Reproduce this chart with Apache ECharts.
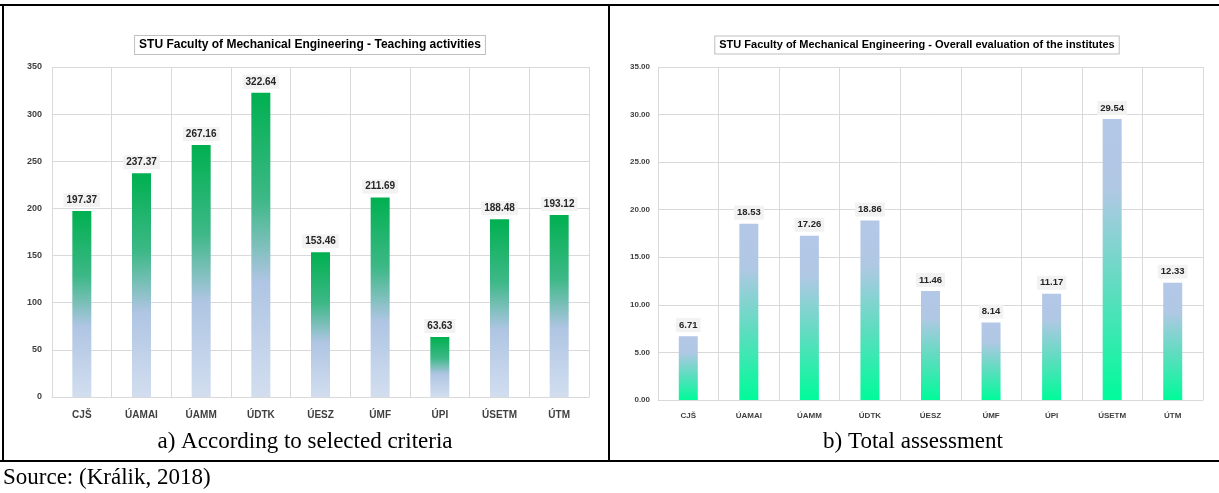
<!DOCTYPE html>
<html>
<head>
<meta charset="utf-8">
<script src="https://cdn.jsdelivr.net/npm/echarts@6/dist/echarts.min.js"></script>
<style>
html,body{margin:0;padding:0;background:#fff;}
#chart{width:1219px;height:493px;}
</style>
</head>
<body>
<div id="chart"></div>
<script>
// ---- Data ----
const categories = ['CJŠ', 'ÚAMAI', 'ÚAMM', 'ÚDTK', 'ÚESZ', 'ÚMF', 'ÚPI', 'ÚSETM', 'ÚTM'];
const teachingValues = [197.37, 237.37, 267.16, 322.64, 153.46, 211.69, 63.63, 188.48, 193.12];
const overallValues = [6.71, 18.53, 17.26, 18.86, 11.46, 8.14, 11.17, 29.54, 12.33];
const titleLeft = 'STU Faculty of Mechanical Engineering - Teaching activities';
const titleRight = 'STU Faculty of Mechanical Engineering - Overall evaluation of the institutes';
const captionLeft = 'a) According to selected criteria';
const captionRight = 'b) Total assessment';
const sourceText = 'Source: (Králik, 2018)';

const uiFont = '"Liberation Sans Narrow", "Liberation Sans", "Noto Sans", sans-serif';
const serifFont = '"Liberation Serif", "DejaVu Serif", serif';

const gradLeft = new echarts.graphic.LinearGradient(0, 0, 0, 1, [
  {offset: 0, color: '#00b050'},
  {offset: 0.35, color: '#3db887'},
  {offset: 0.62, color: '#afc5e3'},
  {offset: 1, color: '#d2deef'}
]);
const gradRight = new echarts.graphic.LinearGradient(0, 0, 0, 1, [
  {offset: 0, color: '#b4c7e7'},
  {offset: 0.25, color: '#b0c8e4'},
  {offset: 0.6, color: '#60dcc0'},
  {offset: 1, color: '#00fb9a'}
]);

const gridLine = {show: true, lineStyle: {color: '#d9d9d9', width: 1}};

const chart = echarts.init(document.getElementById('chart'), null, {renderer: 'canvas'});
chart.setOption({
  backgroundColor: '#ffffff',
  animation: false,
  grid: [
    {left: 52, top: 67, width: 537, height: 330},
    {left: 658, top: 67, width: 545, height: 333}
  ],
  xAxis: [
    {
      gridIndex: 0, type: 'category', data: categories,
      axisTick: {show: false},
      axisLine: {lineStyle: {color: '#d9d9d9'}},
      splitLine: gridLine,
      axisLabel: {margin: 13, fontSize: 10, fontWeight: 'bold', color: '#404040', fontFamily: uiFont}
    },
    {
      gridIndex: 1, type: 'category', data: categories,
      axisTick: {show: false},
      axisLine: {lineStyle: {color: '#d9d9d9'}},
      splitLine: gridLine,
      axisLabel: {margin: 12, fontSize: 8, fontWeight: 'bold', color: '#404040', fontFamily: uiFont}
    }
  ],
  yAxis: [
    {
      gridIndex: 0, type: 'value', min: 0, max: 350, interval: 50,
      axisLine: {show: false}, axisTick: {show: false},
      splitLine: gridLine,
      axisLabel: {margin: 10, fontSize: 9, fontWeight: 'bold', color: '#404040', fontFamily: uiFont}
    },
    {
      gridIndex: 1, type: 'value', min: 0, max: 35, interval: 5,
      axisLine: {show: false}, axisTick: {show: false},
      splitLine: gridLine,
      axisLabel: {margin: 8, fontSize: 8, fontWeight: 'bold', color: '#404040', fontFamily: uiFont,
        formatter: v => v.toFixed(2)}
    }
  ],
  series: [
    {
      type: 'bar', xAxisIndex: 0, yAxisIndex: 0, data: teachingValues,
      barWidth: 19,
      itemStyle: {color: gradLeft},
      label: {
        show: true, position: 'top', distance: 4,
        formatter: p => p.value.toFixed(2),
        fontSize: 10, fontWeight: 'bold', color: '#262626', fontFamily: uiFont,
        backgroundColor: '#f2f2f2', padding: [2, 3]
      }
    },
    {
      type: 'bar', xAxisIndex: 1, yAxisIndex: 1, data: overallValues,
      barWidth: 19,
      itemStyle: {color: gradRight},
      label: {
        show: true, position: 'top', distance: 4,
        formatter: p => p.value.toFixed(2),
        fontSize: 9.5, fontWeight: 'bold', color: '#262626', fontFamily: uiFont,
        backgroundColor: '#f2f2f2', padding: [2, 3]
      }
    }
  ],
  graphic: [
    // table borders
    {type: 'line', shape: {x1: 0, y1: 5, x2: 1219, y2: 5}, style: {stroke: '#000', lineWidth: 2}},
    {type: 'line', shape: {x1: 3, y1: 5, x2: 3, y2: 461}, style: {stroke: '#000', lineWidth: 2}},
    {type: 'line', shape: {x1: 609, y1: 5, x2: 609, y2: 461}, style: {stroke: '#000', lineWidth: 2}},
    {type: 'line', shape: {x1: 0, y1: 461, x2: 1219, y2: 461}, style: {stroke: '#000', lineWidth: 2}},
    // chart titles
    {type: 'text', x: 310, y: 45, z: 10, style: {
      text: titleLeft, align: 'center', verticalAlign: 'middle',
      font: 'bold 12px ' + uiFont, fill: '#000',
      backgroundColor: '#fff', borderColor: '#bfbfbf', borderWidth: 1, padding: [3, 4]
    }},
    {type: 'text', x: 917, y: 45, z: 10, style: {
      text: titleRight, align: 'center', verticalAlign: 'middle',
      font: 'bold 11px ' + uiFont, fill: '#000',
      backgroundColor: '#fff', borderColor: '#bfbfbf', borderWidth: 1, padding: [3, 4]
    }},
    // captions
    {type: 'text', x: 305, y: 442, style: {
      text: captionLeft, align: 'center', verticalAlign: 'middle',
      font: '23px ' + serifFont, fill: '#000'
    }},
    {type: 'text', x: 913, y: 442, style: {
      text: captionRight, align: 'center', verticalAlign: 'middle',
      font: '23px ' + serifFont, fill: '#000'
    }},
    {type: 'text', x: 3, y: 478, style: {
      text: sourceText, align: 'left', verticalAlign: 'middle',
      font: '23px ' + serifFont, fill: '#000'
    }}
  ]
});
</script>
</body>
</html>
